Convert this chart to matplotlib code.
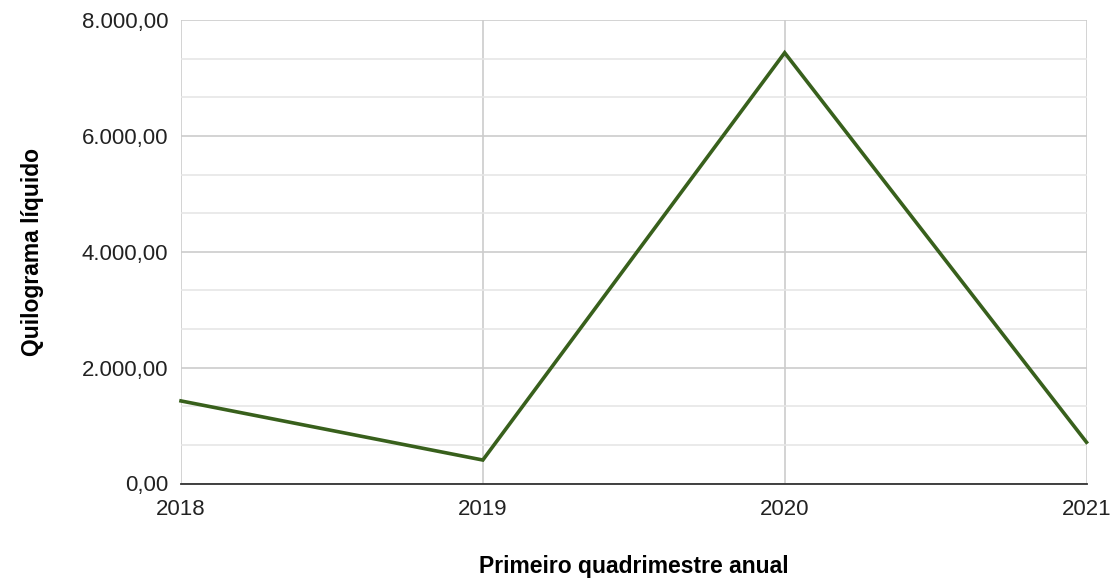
import matplotlib
matplotlib.use("Agg")
import matplotlib.pyplot as plt
from matplotlib.ticker import MultipleLocator, FuncFormatter

years = ["2018", "2019", "2020", "2021"]
values = [1425, 405, 7435, 712]
y_ticks = [0, 2000, 4000, 6000, 8000]

plt.rcParams['font.family'] = ['Liberation Sans', 'DejaVu Sans']

fig = plt.figure(figsize=(11.12, 5.8), dpi=100)
ax = fig.add_axes([181/1112, 1-483.5/580, (1086.5-181)/1112, (483.5-20)/580])

x = list(range(len(years)))
ax.plot(x, values, color='#38601c', linewidth=2.6, solid_joinstyle='miter', zorder=3, clip_on=False)

ax.set_xlim(0, len(years)-1)
ax.set_ylim(0, 8000)
ax.set_xticks(x)
ax.set_xticklabels(years)
ax.set_yticks(y_ticks)
ax.yaxis.set_minor_locator(MultipleLocator(8000/12))

def fmt(v, pos):
    s = f"{v:,.2f}"
    return s.replace(",", "X").replace(".", ",").replace("X", ".")
ax.yaxis.set_major_formatter(FuncFormatter(fmt))

ax.grid(True, which='major', axis='both', color='#cccccc', linewidth=1.2, zorder=0)
ax.grid(True, which='minor', axis='y', color='#e6e6e6', linewidth=1.2, zorder=0)
ax.tick_params(axis='both', which='both', length=0, labelsize=16, colors='#222222')
ax.tick_params(axis='y', pad=9)
ax.tick_params(axis='x', pad=11.5)

for s in ['top', 'right', 'left']:
    ax.spines[s].set_visible(False)
ax.spines['bottom'].set_color('#333333')
ax.spines['bottom'].set_linewidth(1.3)

ax.set_xlabel("Primeiro quadrimestre anual", fontsize=16.5, fontweight='bold', labelpad=25, color='#000000')
ax.set_ylabel("Quilograma líquido", fontsize=16.5, fontweight='bold', labelpad=27.5, color='#000000')

fig.savefig("out.png", dpi=100, facecolor='white')
